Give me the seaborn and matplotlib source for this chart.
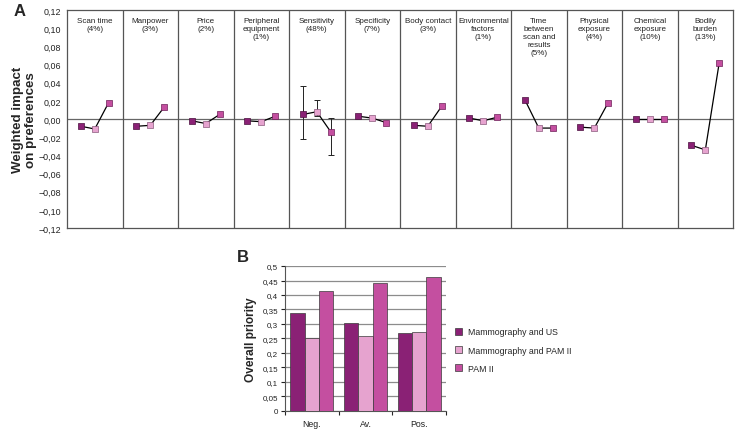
import numpy as np
import pandas as pd
import matplotlib
matplotlib.use("Agg")
import matplotlib.pyplot as plt
import seaborn as sns
from matplotlib.ticker import FuncFormatter, FixedLocator

# ---- data -------------------------------------------------------------
factors = ["Scan time\n(4%)", "Manpower\n(3%)", "Price\n(2%)", "Peripheral\nequipment\n(1%)",
           "Sensitivity\n(48%)", "Specificity\n(7%)", "Body contact\n(3%)", "Environmental\nfactors\n(1%)",
           "Time\nbetween\nscan and\nresults\n(5%)", "Physical\nexposure\n(4%)", "Chemical\nexposure\n(10%)",
           "Bodily\nburden\n(13%)"]
series = ["Mammography and US", "Mammography and PAM II", "PAM II"]
mammo_us = [-0.008, -0.008, -0.002, -0.002, 0.005, 0.003, -0.007, 0.001, 0.021, -0.009, 0.000, -0.029]
mammo_pam = [-0.011, -0.007, -0.005, -0.003, 0.008, 0.001, -0.008, -0.002, -0.010, -0.010, 0.000, -0.034]
pam = [0.018, 0.013, 0.005, 0.003, -0.014, -0.004, 0.014, 0.002, -0.010, 0.018, 0.000, 0.062]
# error bars for sensitivity (lower, upper ends)
sens_low = [-0.022, 0.003, -0.040]
sens_high = [0.036, 0.021, 0.001]

scenarios = ["Neg.", "Av.", "Pos."]
prio_us = [0.337, 0.302, 0.269]
prio_pam2 = [0.250, 0.257, 0.271]
prio_pam = [0.413, 0.443, 0.462]

colors = ["#8a2175", "#e6a3cf", "#c44fa0"]
edges = ["#4a0f3e", "#8a5a7c", "#6e2058"]

sns.set_style("white")
plt.rcParams["font.family"] = ["Liberation Sans", "DejaVu Sans"]

fig = plt.figure(figsize=(7.42, 4.35), dpi=100)

# ---- panel A ----------------------------------------------------------
rows = []
for i, f in enumerate(factors):
    for j, (s, vals) in enumerate(zip(series, [mammo_us, mammo_pam, pam])):
        rows.append({"factor": i, "series": s, "x": i + 0.25 * (j + 1), "value": vals[i]})
dfa = pd.DataFrame(rows)

axA = fig.add_axes([0.0903, 0.4736, 0.8977, 0.5011])
axA.axhline(0, color="#666666", lw=0.9, zorder=1)
for k in range(1, len(factors)):
    axA.axvline(k, color="#555555", lw=0.9, zorder=1)

sns.lineplot(data=dfa, x="x", y="value", units="factor", estimator=None,
             color="black", lw=0.9, ax=axA, zorder=2, legend=False)

sens = dfa[dfa["factor"] == 4]
yerr = np.array([sens["value"].values - np.array(sens_low),
                 np.array(sens_high) - sens["value"].values])
axA.errorbar(sens["x"], sens["value"], yerr=yerr, fmt="none", ecolor="#222222",
             elinewidth=0.7, capsize=2.2, capthick=0.7, zorder=2)

for s, c, e in zip(series, colors, edges):
    sub = dfa[dfa["series"] == s]
    axA.scatter(sub["x"], sub["value"], marker="s", s=22, color=c,
                edgecolor=e, linewidth=0.5, zorder=3)

axA.set_xlim(0, len(factors))
axA.set_ylim(-0.12, 0.12)
axA.set_xticks([])
axA.yaxis.set_major_locator(FixedLocator(np.arange(-0.12, 0.1201, 0.02)))
axA.yaxis.set_major_formatter(FuncFormatter(
    lambda v, p: f"{v:.2f}".replace(".", ",").replace("-", "\u2212") if abs(v) > 1e-9 else "0,00"))
axA.tick_params(axis="y", labelsize=6.4, length=0, pad=4, colors="#222222")
for sp in axA.spines.values():
    sp.set_color("#555555")
    sp.set_linewidth(0.9)
for i, f in enumerate(factors):
    axA.text(i + 0.5, 0.1125, f, ha="center", va="top", fontsize=5.8,
             linespacing=1.2, color="#222222")
axA.set_xlabel("")
axA.set_ylabel("Weighted impact\non preferences", fontsize=9.6, fontweight="bold",
               linespacing=1.15, labelpad=1)
fig.text(14 / 742, 1 - 12 / 435, "A", fontsize=12, fontweight="bold", va="center")

# ---- panel B ----------------------------------------------------------
dfb = pd.DataFrame({
    "scenario": np.repeat(scenarios, 3),
    "series": series * len(scenarios),
    "priority": [v for trio in zip(prio_us, prio_pam2, prio_pam) for v in trio],
})
axB = fig.add_axes([0.384, 0.0529, 0.217, 0.3333])
sns.barplot(data=dfb, x="scenario", y="priority", hue="series", palette=colors,
            saturation=1, width=0.8, edgecolor="#3a3a3a", linewidth=0.5, ax=axB, zorder=3)
axB.set_ylim(0, 0.5)
axB.set_xlim(-0.5, 2.5)
axB.yaxis.set_major_locator(FixedLocator(np.arange(0, 0.501, 0.05)))
axB.yaxis.set_major_formatter(FuncFormatter(lambda v, p: f"{round(v, 2):g}".replace(".", ",")))
axB.grid(axis="y", color="#8c8c8c", lw=0.9, zorder=0)
axB.set_axisbelow(True)
axB.tick_params(axis="y", labelsize=5.8, length=3, width=0.8, direction="out",
                left=True, colors="#222222", pad=2)
axB.tick_params(axis="x", labelsize=6.3, length=0, pad=6, colors="#222222")
axB.set_xticks([-0.5, 0.5, 1.5, 2.5], minor=True)
axB.tick_params(axis="x", which="minor", length=3, width=0.8, bottom=True, direction="out")
for side in ["top", "right"]:
    axB.spines[side].set_visible(False)
axB.spines["left"].set_color("#555555")
axB.spines["bottom"].set_color("#555555")
axB.set_xlabel("")
axB.set_ylabel("Overall priority", fontsize=8.6, fontweight="bold", labelpad=4)
axB.get_legend().remove()
handles = [plt.Rectangle((0, 0), 1, 1, facecolor=c, edgecolor="#3a3a3a", linewidth=0.5)
           for c in colors]
fig.legend(handles, series, loc="upper left", bbox_to_anchor=(452 / 742, 1 - 325 / 435),
           frameon=False, fontsize=6.3, handlelength=0.8, handleheight=0.8,
           handletextpad=0.6, labelspacing=1.05, borderaxespad=0)
fig.text(237 / 742, 1 - 257 / 435, "B", fontsize=12, fontweight="bold", va="center")

fig.savefig("out.png", dpi=100)
